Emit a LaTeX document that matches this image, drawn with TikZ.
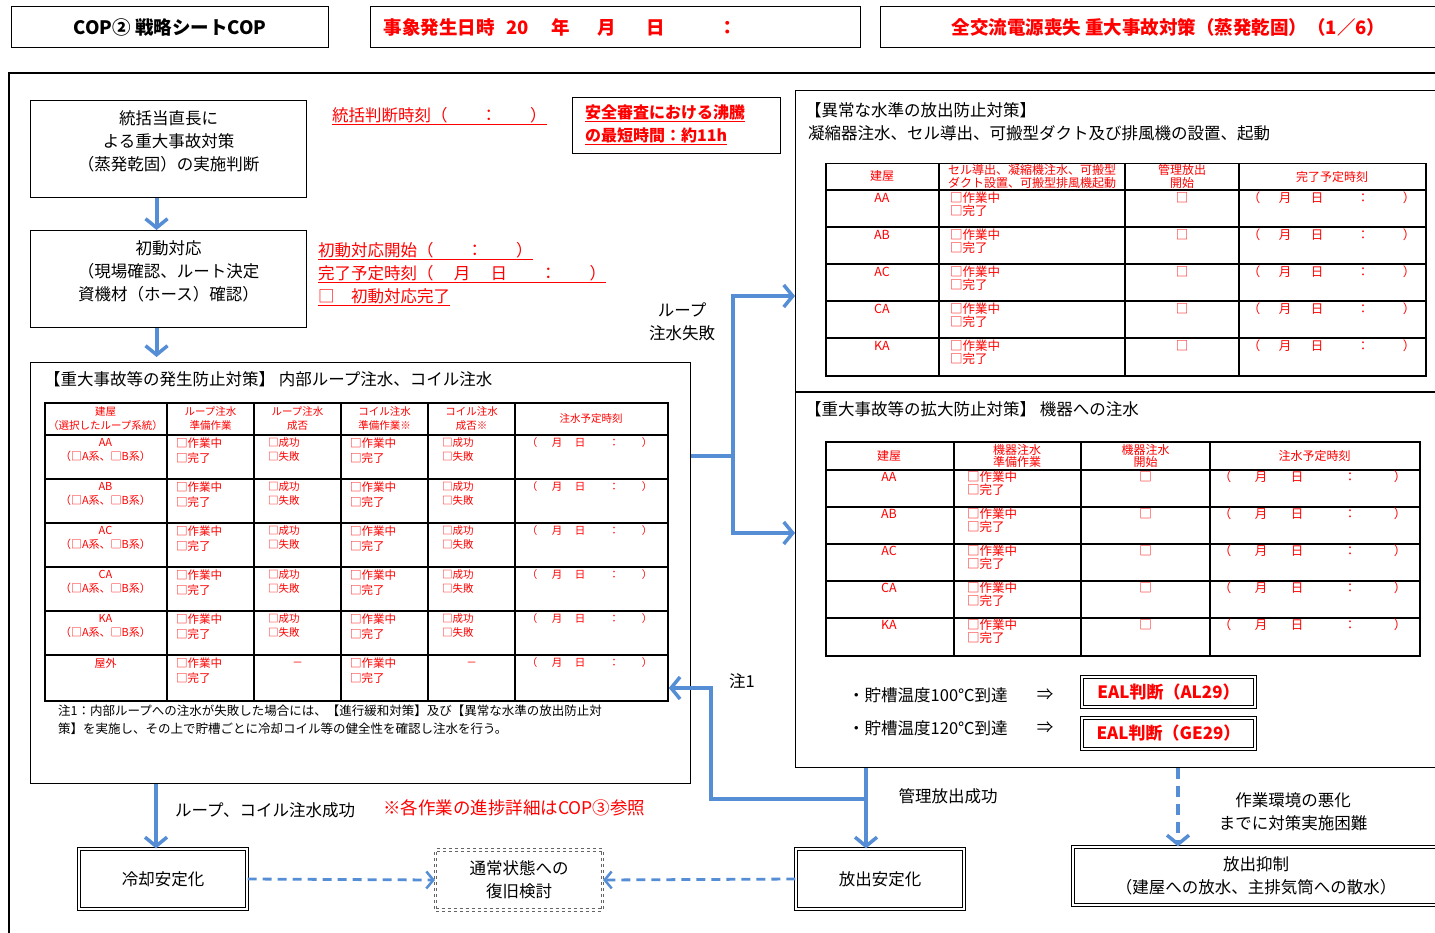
\documentclass[tikz,border=0pt]{standalone}
\usepackage{fontspec}
\setmainfont{Noto Sans CJK JP}
\usepackage{xcolor}
\definecolor{copblue}{RGB}{85,142,213}
\definecolor{copred}{RGB}{255,0,0}
\definecolor{copgray}{RGB}{100,100,100}
\usepackage{tikz}
\usetikzlibrary{arrows.meta, positioning, calc}

\tikzset{
  txt/.style={inner sep=0pt, font=\fontsize{16.5}{23}\selectfont},
  redtxt/.style={txt, text=copred},
  hdrbox/.style={draw=black, line width=1.2pt, minimum height=41pt, inner sep=0pt,
    font=\fontsize{18.5}{22}\selectfont\bfseries},
  plainbox/.style={draw=black, line width=1.1pt, inner sep=0pt},
  dblbox/.style={draw=black, line width=1.1pt, double=white, double distance=1.6pt,
    inner sep=0pt, align=center, font=\fontsize{16.5}{23}\selectfont},
  tabbox/.style={draw=black, line width=1.8pt, inner sep=0pt},
  tabline/.style={black, line width=1.8pt},
  cell/.style={inner sep=0pt, text=copred, align=center, font=\fontsize{10.5}{14}\selectfont},
  namecell/.style={cell, font=\fontsize{11}{14}\selectfont},
  prepcell/.style={cell, align=left, font=\fontsize{11.5}{15}\selectfont},
  smallcell/.style={cell, font=\fontsize{10.5}{14}\selectfont},
  rcell/.style={inner sep=0pt, text=copred, align=center, font=\fontsize{12.5}{13}\selectfont},
  rhead/.style={rcell, font=\fontsize{12}{12.5}\selectfont},
  flowline/.style={copblue, line width=4pt},
  flowarrow/.style={flowline, -{Straight Barb[length=9pt, width=22pt, line width=3.5pt]}},
  dashflow/.style={copblue, line width=2.8pt, dash pattern=on 9pt off 6pt,
    -{Straight Barb[length=7pt, width=17pt, line width=2.5pt]}},
}

\begin{document}
\begin{tikzpicture}[x=1pt, y=-1pt]
\useasboundingbox (0,0) rectangle (1435,933);

% === Header strip ===
\node[hdrbox, minimum width=317pt, anchor=north west] (hdrcop) at (11,6) {COP② 戦略シートCOP};
\node[hdrbox, text=copred, text width=464pt, inner xsep=13pt, align=left, anchor=north west] (hdrtime) at (370,6)
  {事象発生日時\hspace{12pt}20\hspace{22pt}年\hspace{28pt}月\hspace{30pt}日\hspace{54pt}：};
\node[hdrbox, text=copred, minimum width=576pt, anchor=north west] (hdrtitle) at (880,6)
  {全交流電源喪失 重大事故対策（蒸発乾固）（1／6）};

% === Outer frame ===
\draw[line width=1.5pt] (9,945) -- (9,73) -- (1445,73);

% === Left flow: judgement and initial response ===
\node[plainbox, minimum width=276pt, minimum height=97pt, anchor=north west] (judge) at (30,100) {};
\node[txt, align=center] (judgetxt) at ([yshift=8pt]judge.center)
  {統括当直長に\\よる重大事故対策\\（蒸発乾固）の実施判断};
\node[redtxt, anchor=west] (judgetime) at (332,116) {\underline{統括判断時刻（　　：　　）}};
\node[plainbox, minimum width=208pt, minimum height=56pt, anchor=north west] (boilbox) at (572,97) {};
\node[redtxt, anchor=west, align=left, font=\fontsize{16}{23}\selectfont\bfseries] (boiltxt) at (585,124.5)
  {\underline{安全審査における沸騰}\\\underline{の最短時間：約11h}};

\node[plainbox, minimum width=276pt, minimum height=97pt, anchor=north west] (initial) at (30,230) {};
\node[txt, align=center] (initialtxt) at ([yshift=8pt]initial.center)
  {初動対応\\（現場確認、ルート決定\\資機材（ホース）確認）};
\node[redtxt, anchor=west, align=left] (initstat) at (318,274)
  {\underline{初動対応開始（　　：　　）}\\\underline{完了予定時刻（　 月　 日　　：　　）}\\\underline{□　初動対応完了}};

% === Left frame: prevention measures ===
\node[plainbox, minimum width=660pt, minimum height=421pt, anchor=north west] (prevent) at (30,362) {};
\node[txt, anchor=west] (preventttl) at (44,379) {【重大事故等の発生防止対策】 内部ループ注水、コイル注水};

\node[tabbox, minimum width=623pt, minimum height=298pt, anchor=north west] (looptab) at (44,402) {};
\foreach \cx in {167,254,341,428,515} \draw[tabline] (\cx,402) -- (\cx,700);
\foreach \ry in {435,479,523,567,611,655} \draw[tabline] (44,\ry) -- (667,\ry);
\foreach \cx/\txt [count=\k] in {105.5/{建屋\\（選択したループ系統）}, 210.5/{ループ注水\\準備作業},
    297.5/{ループ注水\\成否}, 384.5/{コイル注水\\準備作業※}, 471.5/{コイル注水\\成否※}, 591/{注水予定時刻}}
  \node[cell] (lhd\k) at (\cx,419) {\txt};
\foreach \nm [count=\i from 0] in {AA,AB,AC,CA,KA}{
  \pgfmathsetmacro{\ry}{435+44*\i}
  \node[namecell, anchor=north] (lnm\i) at (105.5,\ry+3) {\nm\\（□A系、□B系）};
  \node[prepcell, anchor=north west] (lprep\i) at (176,\ry+3) {□作業中\\□完了};
  \node[smallcell, anchor=north west, align=left] (lres\i) at (268,\ry+2) {□成功\\□失敗};
  \node[prepcell, anchor=north west] (cprep\i) at (350,\ry+3) {□作業中\\□完了};
  \node[smallcell, anchor=north west, align=left] (cres\i) at (442,\ry+2) {□成功\\□失敗};
  \foreach \sx/\sc [count=\k] in {532/（,557/月,580/日,614/：,647/）}
    \node[smallcell] (lslot\i\k) at (\sx,\ry+8) {\sc};
}
\node[namecell, anchor=north] (lnm5) at (105.5,658) {屋外};
\node[prepcell, anchor=north west] (lprep5) at (176,658) {□作業中\\□完了};
\node[cell] (lres5) at (297.5,664) {－};
\node[prepcell, anchor=north west] (cprep5) at (350,658) {□作業中\\□完了};
\node[cell] (cres5) at (471.5,664) {－};
\foreach \sx/\sc [count=\k] in {532/（,557/月,580/日,614/：,647/）}
  \node[smallcell] (lslot5\k) at (\sx,663) {\sc};

\node[anchor=north west, inner sep=0pt, align=left, font=\fontsize{12.5}{18}\selectfont] (note1) at (58,705)
  {注1：内部ループへの注水が失敗した場合には、【進行緩和対策】及び【異常な水準の放出防止対\\策】を実施し、その上で貯槽ごとに冷却コイル等の健全性を確認し注水を行う。};

% === Right frame: release prevention / mitigation ===
\node[plainbox, minimum width=650pt, minimum height=677pt, anchor=north west] (relframe) at (795,90) {};
\draw[line width=1.1pt] (795,392) -- (1445,392);
\node[txt, anchor=west] (relttl1) at (805,110) {【異常な水準の放出防止対策】};
\node[txt, anchor=west] (relttl2) at (808,133) {凝縮器注水、セル導出、可搬型ダクト及び排風機の設置、起動};

\node[tabbox, line width=1.5pt, minimum width=600pt, minimum height=212pt, anchor=north west] (reltab) at (825,163) {};
\foreach \cx in {939,1125,1239} \draw[tabline, line width=1.5pt] (\cx,163) -- (\cx,375);
\foreach \ry in {190,227,264,301,338} \draw[tabline, line width=1.5pt] (825,\ry) -- (1425,\ry);
\foreach \cx/\txt [count=\k] in {882/建屋, 1032/{セル導出、凝縮機注水、可搬型\\ダクト設置、可搬型排風機起動},
    1182/{管理放出\\開始}, 1332/完了予定時刻}
  \node[rhead] (rhd\k) at (\cx,176.5) {\txt};
\foreach \nm [count=\i from 0] in {AA,AB,AC,CA,KA}{
  \pgfmathsetmacro{\ry}{190+37*\i}
  \node[rcell] (rnm\i) at (882,\ry+8) {\nm};
  \node[rcell, anchor=north west, align=left] (rprep\i) at (950,\ry+2) {□作業中\\□完了};
  \node[rcell] (rstart\i) at (1182,\ry+8) {□};
  \foreach \sx/\sc [count=\k] in {1254/（,1285/月,1317/日,1363/：,1409/）}
    \node[rcell] (rslot\i\k) at (\sx,\ry+8) {\sc};
}

\node[txt, anchor=west] (injttl) at (805,409) {【重大事故等の拡大防止対策】 機器への注水};
\node[tabbox, line width=1.5pt, minimum width=594pt, minimum height=214pt, anchor=north west] (injtab) at (825,441) {};
\foreach \cx in {954,1081,1210} \draw[tabline, line width=1.5pt] (\cx,441) -- (\cx,655);
\foreach \ry in {470,507,544,581,618} \draw[tabline, line width=1.5pt] (825,\ry) -- (1419,\ry);
\foreach \cx/\txt [count=\k] in {889/建屋, 1017/{機器注水\\準備作業}, 1145.5/{機器注水\\開始}, 1314.5/注水予定時刻}
  \node[rhead] (ihd\k) at (\cx,456) {\txt};
\foreach \nm [count=\i from 0] in {AA,AB,AC,CA,KA}{
  \pgfmathsetmacro{\ry}{470+37*\i}
  \node[rcell] (inm\i) at (889,\ry+7) {\nm};
  \node[rcell, anchor=north west, align=left] (iprep\i) at (967,\ry+1) {□作業中\\□完了};
  \node[rcell] (istart\i) at (1145.5,\ry+7) {□};
  \foreach \sx/\sc [count=\k] in {1225/（,1261/月,1297/日,1350/：,1400/）}
    \node[rcell] (islot\i\k) at (\sx,\ry+7) {\sc};
}

\node[txt, anchor=west] (temp100) at (848,695) {・貯槽温度100℃到達};
\node[txt] (imp100) at (1045,695) {⇒};
\node[dblbox, minimum width=173pt, minimum height=30pt, text=copred, font=\fontsize{17}{20}\selectfont\bfseries]
  (eal1) at (1168.5,692) {EAL判断（AL29）};
\node[txt, anchor=west] (temp120) at (848,728) {・貯槽温度120℃到達};
\node[txt] (imp120) at (1045,728) {⇒};
\node[dblbox, minimum width=173pt, minimum height=31pt, text=copred, font=\fontsize{17}{20}\selectfont\bfseries]
  (eal2) at (1168.5,733.5) {EAL判断（GE29）};

% === Bottom row: end states ===
\node[dblbox, minimum width=168pt, minimum height=60pt] (cool) at (163,879) {冷却安定化};
\node[dblbox, draw=copgray, dashed, minimum width=167pt, minimum height=60pt] (restore) at (519,880) {通常状態への\\復旧検討};
\node[dblbox, minimum width=168pt, minimum height=60pt] (release) at (880,879) {放出安定化};
\node[dblbox, minimum width=366pt, minimum height=58pt] (suppress) at (1256,876) {放出抑制\\（建屋への放水、主排気筒への散水）};

% === Connectors ===
\coordinate (judgeout) at ([xshift=-12pt]judge.south);
\coordinate (initout) at ([xshift=-12pt]initial.south);
\draw[flowarrow] (judgeout) -- (judgeout |- initial.north);
\draw[flowarrow, shorten >=5pt] (initout) -- (initout |- prevent.north);

% loop injection failed -> right frame
\coordinate (split) at (733,456);
\coordinate (upin) at (795,296);
\coordinate (downin) at (795,533);
\draw[flowline] (prevent.east |- split) -- (split);
\draw[flowarrow] (split) |- (upin);
\draw[flowarrow] (split) |- (downin);
\node[txt, align=center] (failtxt) at (682,321.5) {ループ\\注水失敗};

% controlled release succeeded
\coordinate (junc) at (866,799);
\coordinate (noteturn) at (711,688);
\draw[flowarrow] (relframe.south -| junc) -- (release.north -| junc);
\draw[flowarrow] (junc) -| (noteturn) -- (looptab.east |- noteturn);
\node[txt] (note1lbl) at (742,681) {注1};
\node[txt] (okrel) at (948,796) {管理放出成功};

% injection succeeded
\coordinate (coolin) at (156,847);
\draw[flowarrow] (prevent.south -| coolin) -- (coolin |- cool.north);
\node[txt, anchor=west] (oktxt) at (175,810) {ループ、コイル注水成功};
\node[redtxt, anchor=west, font=\fontsize{17.5}{22}\selectfont] (coprefer) at (383,808) {※各作業の進捗詳細はCOP③参照};

% environment worsened
\coordinate (hardin) at (1178,845);
\draw[flowarrow, dash pattern=on 11pt off 7pt] (relframe.south -| hardin) -- (hardin |- suppress.north);
\node[txt, align=center] (hardtxt) at (1293,811.5) {作業環境の悪化\\までに対策実施困難};

% towards recovery
\draw[dashflow] (cool.east) -- (restore.west);
\draw[dashflow] (release.west) -- (restore.east);

\end{tikzpicture}
\end{document}
